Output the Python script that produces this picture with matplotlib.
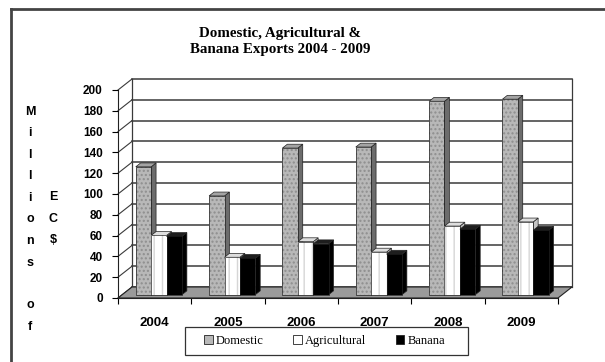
import numpy as np
import matplotlib.pyplot as plt
from matplotlib.patches import Patch, Rectangle
from matplotlib.lines import Line2D

# data (millions EC$)
years = ['2004', '2005', '2006', '2007', '2008', '2009']
domestic = [123, 95, 141, 142, 186, 188]
agricultural = [57, 36, 51, 41, 66, 70]
banana = [56, 35, 49, 39, 63, 62]
series_names = ['Domestic', 'Agricultural', 'Banana']
y_ticks = list(range(0, 201, 20))

W, H = 605, 362
fig = plt.figure(figsize=(W / 100, H / 100), dpi=100)
ax = fig.add_axes([118 / W, (H - 298) / H, 440 / W, 208 / H])
n = len(years)
ax.set_xlim(0, n)
ax.set_ylim(0, 200)

# fake 3d depth of the floor / walls in data units
DX = 14 / 440 * n
DY = 11 / 208 * 200
BW = 0.21          # bar width
F0, F1 = 0.3, 0.65  # bar depth (front, back) as fraction of the floor depth

# floor
ax.fill([0, n, n + DX, DX], [0, 0, DY, DY], fc='#9a9a9a', ec='#222222',
        lw=0.8, clip_on=False, zorder=1)

# back wall gridlines + edges
for v in y_ticks:
    ax.plot([DX, n + DX], [v + DY, v + DY], color='#3a3a3a', lw=1.1,
            clip_on=False, zorder=0.5)
    ax.plot([0, DX], [v, v + DY], color='#3a3a3a', lw=0.8, clip_on=False, zorder=0.5)
ax.plot([DX, DX], [DY, 200 + DY], color='#3a3a3a', lw=0.9, clip_on=False, zorder=0.5)
ax.plot([n + DX, n + DX], [DY, 200 + DY], color='#3a3a3a', lw=0.9, clip_on=False, zorder=0.5)

styles = [
    # front, hatch colour, hatch, side, top
    ('#b8b8b8', '#8e8e8e', '....', '#6c6c6c', '#a4a4a4'),
    ('#ffffff', '#d6d6d6', '||', '#c4c4c4', '#dedede'),
    ('#000000', '#000000', None, '#000000', '#1e1e1e'),
]
ddx = (F1 - F0) * DX
ddy = (F1 - F0) * DY
z = 2
for i in range(n):
    for j, vals in enumerate([domestic, agricultural, banana]):
        front, hcol, hatch, side, top = styles[j]
        v = vals[i]
        xl = i + 0.5 - 1.5 * BW + j * BW + F0 * DX
        b = F0 * DY
        xr = xl + BW
        # side face
        ax.fill([xr, xr + ddx, xr + ddx, xr], [b, b + ddy, b + v + ddy, b + v],
                fc=side, ec='#222222', lw=0.5, clip_on=False, zorder=z)
        # top face
        ax.fill([xl, xr, xr + ddx, xl + ddx], [b + v, b + v, b + v + ddy, b + v + ddy],
                fc=top, ec='#222222', lw=0.5, clip_on=False, zorder=z)
        # front face
        ax.bar(xl, v, width=BW, bottom=b, align='edge', color=front, hatch=hatch,
               edgecolor=hcol, lw=0, clip_on=False, zorder=z + 0.1)
        ax.bar(xl, v, width=BW, bottom=b, align='edge', fill=False,
               edgecolor='#222222', lw=0.5, clip_on=False, zorder=z + 0.2)
        z += 1

# axes
for s in ['top', 'right']:
    ax.spines[s].set_visible(False)
ax.spines['left'].set_color('#222222')
ax.spines['bottom'].set_color('#222222')
ax.spines['left'].set_zorder(0.6)
ax.spines['bottom'].set_zorder(200)
ax.set_yticks(y_ticks)
ax.set_yticklabels([str(v) for v in y_ticks], fontfamily='Liberation Sans',
                   fontweight='bold', fontsize=8.5)
ax.tick_params(axis='y', length=4, width=0.8, pad=7)
ax.set_xticks(np.arange(n) + 0.5)
ax.set_xticklabels(years, fontfamily='Liberation Sans', fontweight='bold', fontsize=9.5)
ax.set_xticks(np.arange(n + 1), minor=True)
ax.tick_params(axis='x', which='major', length=0, pad=14)
ax.tick_params(axis='x', which='minor', length=4, width=0.8)
ax.patch.set_visible(False)

# title
fig.text(280 / W, 1 - 41 / H, 'Domestic, Agricultural &\nBanana Exports 2004 - 2009',
         ha='center', va='center', fontfamily='Liberation Serif', fontweight='bold',
         fontsize=10.8, linespacing=1.3)

# stacked y label
for k, ch in enumerate('Millions of'):
    fig.text(30 / W, 1 - (112 + k * 21.5) / H, ch, ha='center', va='center',
             fontfamily='Liberation Sans', fontweight='bold', fontsize=9)
for k, ch in enumerate('EC$'):
    fig.text(53 / W, 1 - (197 + k * 21.5) / H, ch, ha='center', va='center',
             fontfamily='Liberation Sans', fontweight='bold', fontsize=9)

# legend (frame drawn separately, it is wider than the entries)
handles = [Patch(fc=styles[j][0], ec='#222222', lw=0.6) for j in range(3)]
leg = fig.legend(handles, series_names, loc='center',
                 bbox_to_anchor=(324.5 / W, 1 - 341 / H), ncol=3, frameon=False,
                 handlelength=0.7, handleheight=0.7, handletextpad=0.25,
                 columnspacing=2.35, borderpad=0, borderaxespad=0,
                 prop={'family': 'Liberation Serif', 'size': 9})
fig.add_artist(Rectangle((185 / W, 1 - 355 / H), 283 / W, 28 / H, fill=False,
                         ec='#333333', lw=0.9, transform=fig.transFigure))

# outer border (only top and left visible in the crop)
fig.add_artist(Line2D([11 / W, 1], [1 - 8.5 / H, 1 - 8.5 / H], color='#444444', lw=2,
                      transform=fig.transFigure))
fig.add_artist(Line2D([11 / W, 11 / W], [0, 1 - 8.5 / H], color='#444444', lw=2,
                      transform=fig.transFigure))

fig.savefig('out.png', dpi=100)
